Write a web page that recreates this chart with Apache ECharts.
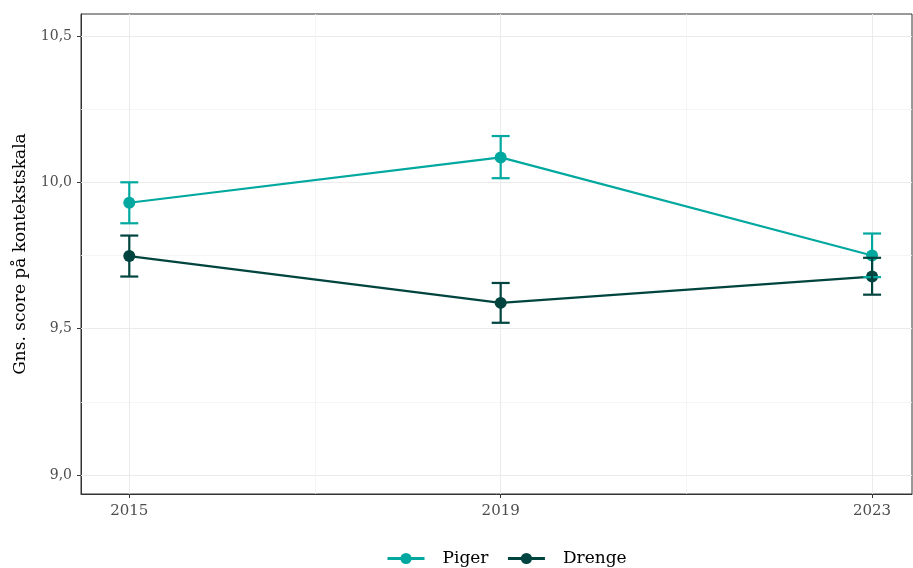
<!DOCTYPE html>
<html><head><meta charset="utf-8">
<script src="https://cdn.jsdelivr.net/npm/echarts@6/dist/echarts.min.js"></script>
<style>html,body{margin:0;padding:0;background:#fff}#c{width:913px;height:568px}</style>
</head><body><div id="c"></div>
<script>
const years = [2015, 2019, 2023];
const pigerMean = [9.93, 10.085, 9.75];
const pigerLow = [9.86, 10.014, 9.676];
const pigerHigh = [10.0, 10.158, 9.825];
const drengeMean = [9.748, 9.588, 9.678];
const drengeLow = [9.678, 9.52, 9.616];
const drengeHigh = [9.818, 9.656, 9.742];
const yTicks = [9.0, 9.5, 10.0, 10.5];
const yMinor = [9.25, 9.75, 10.25];
const xMinor = [2017, 2021];
const seriesNames = ['Piger', 'Drenge'];
const colors = ['#00a89f', '#00443f'];
const FONT = '"DejaVu Serif", "Liberation Serif", serif';

function errSeries(name, color, lo, hi) {
  return {
    type: 'custom', name: name, z: 12, silent: true,
    data: years.map((y, i) => [y, lo[i], hi[i]]),
    renderItem: function (params, api) {
      const x = api.value(0);
      const a = api.coord([x, api.value(1)]);
      const b = api.coord([x, api.value(2)]);
      const w = 9;
      const st = { stroke: color, lineWidth: 2.2 };
      return { type: 'group', children: [
        { type: 'line', shape: { x1: a[0], y1: a[1], x2: b[0], y2: b[1] }, style: st },
        { type: 'line', shape: { x1: a[0] - w, y1: a[1], x2: a[0] + w, y2: a[1] }, style: st },
        { type: 'line', shape: { x1: b[0] - w, y1: b[1], x2: b[0] + w, y2: b[1] }, style: st }
      ]};
    }
  };
}
function lineSeries(name, color, vals) {
  return {
    type: 'line', name: name, z: 10,
    data: years.map((y, i) => [y, vals[i]]),
    symbol: 'circle', symbolSize: 12, showSymbol: true,
    lineStyle: { color: color, width: 2.2 }, itemStyle: { color: color },
    emphasis: { disabled: true }, animation: false
  };
}
const gridMajor = { color: '#ebebeb', width: 1.1, type: 'solid' };
const gridMinor = { color: '#f2f2f2', width: 0.8, type: 'solid' };
const markData = [];
yTicks.forEach(v => markData.push({ yAxis: v, lineStyle: gridMajor }));
yMinor.forEach(v => markData.push({ yAxis: v, lineStyle: gridMinor }));
years.forEach(v => markData.push({ xAxis: v, lineStyle: gridMajor }));
xMinor.forEach(v => markData.push({ xAxis: v, lineStyle: gridMinor }));

const chart = echarts.init(document.getElementById('c'), null, { renderer: 'canvas' });
chart.setOption({
  animation: false,
  textStyle: { fontFamily: FONT },
  grid: { left: 81, right: 1, top: 14, bottom: 74, show: true, borderColor: '#333', borderWidth: 1, backgroundColor: '#fff' },
  legend: {
    top: 545, left: 381, itemWidth: 37, itemHeight: 14, itemGap: 18,
    data: seriesNames,
    lineStyle: { width: 3 },
    textStyle: { fontFamily: FONT, fontSize: 17, color: '#000', padding: [0, 0, 0, 13] }
  },
  xAxis: {
    type: 'value', min: 2014.48, max: 2023.43,
    splitLine: { show: false },
    axisLine: { show: true, lineStyle: { color: '#333' } },
    axisTick: { show: true, customValues: years, length: 4, lineStyle: { color: '#333' } },
    axisLabel: { customValues: years, margin: 10, fontSize: 15, color: '#4d4d4d', fontFamily: FONT,
      formatter: v => String(Math.round(v)) }
  },
  yAxis: {
    type: 'value', min: 8.935, max: 10.575,
    name: 'Gns. score på kontekstskala', nameLocation: 'middle', nameGap: 52,
    nameTextStyle: { fontFamily: FONT, fontSize: 17, color: '#000' },
    splitLine: { show: false },
    axisLine: { show: true, lineStyle: { color: '#333' } },
    axisTick: { show: true, customValues: yTicks, length: 4, lineStyle: { color: '#333' } },
    axisLabel: { customValues: yTicks, margin: 9, fontSize: 14, color: '#4d4d4d', fontFamily: FONT,
      formatter: v => v.toFixed(1).replace('.', ',') }
  },
  series: [
    { type: 'line', data: [], silent: true, z: 0,
      markLine: { silent: true, symbol: 'none', label: { show: false }, animation: false, data: markData } },
    lineSeries('Piger', colors[0], pigerMean),
    lineSeries('Drenge', colors[1], drengeMean),
    errSeries('Piger', colors[0], pigerLow, pigerHigh),
    errSeries('Drenge', colors[1], drengeLow, drengeHigh)
  ]
});
</script></body></html>
